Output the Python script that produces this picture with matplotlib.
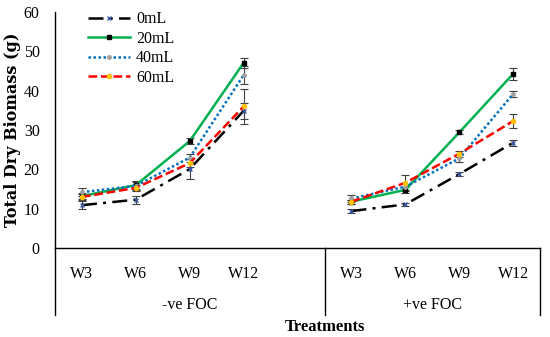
import matplotlib
matplotlib.use("Agg")
import matplotlib.pyplot as plt
import matplotlib.transforms as mtransforms
import numpy as np

# --- data ---
weeks = ["W3", "W6", "W9", "W12"]
groups = ["-ve FOC", "+ve FOC"]
series = ["0mL", "20mL", "40mL", "60mL"]

# values: first four = -ve FOC, last four = +ve FOC
v0 = [10.9, 12.3, 20.1, 34.9, 9.4, 11.1, 18.8, 26.8]
v20 = [13.2, 16.0, 27.2, 47.1, 11.8, 14.8, 29.4, 44.3]
v40 = [14.2, 15.8, 23.0, 44.0, 12.6, 15.6, 22.8, 39.2]
v60 = [13.0, 15.3, 21.6, 36.0, 11.8, 16.6, 24.0, 32.3]

e0 = [1.0, 1.0, 2.5, 2.0, 0.5, 0.4, 0.6, 0.8]
e20 = [0.8, 1.0, 0.8, 1.3, 0.5, 0.8, 0.5, 1.5]
e40 = [1.0, 1.0, 1.0, 2.2, 0.8, 0.8, 0.8, 0.8]
e60 = [0.8, 0.8, 1.0, 4.5, 0.5, 2.0, 0.8, 1.8]

plt.rcParams['font.family'] = ['Liberation Serif', 'DejaVu Serif']

fig = plt.figure(figsize=(5.5, 3.37), dpi=100)
ax = fig.add_axes([0.1, 0.264, 0.882, 0.700])

# slot positions: 4 weeks, a blank slot, 4 weeks
xpos = [0, 1, 2, 3, 5, 6, 7, 8]

styles = [
    dict(color="black", dashes=(6, 2.5, 1.2, 2.5), marker="x", mfc="#3a5aa8", mec="#3a5aa8", ms=3.5),
    dict(color="#00b050", linestyle="-", marker="s", mfc="black", mec="black", ms=3.5),
    dict(color="#0070c0", linestyle=(0, (1, 1)), marker="o", mfc="#a0a0a0", mec="#a0a0a0", ms=2.5),
    dict(color="#ff0000", linestyle=(0, (3.5, 1.5)), marker="o", mfc="#ffc000", mec="#ffc000", ms=3),
]
vals = [v0, v20, v40, v60]
errs = [e0, e20, e40, e60]

for name, v, e, st in zip(series, vals, errs, styles):
    for g in range(2):
        xs = xpos[g * 4:(g + 1) * 4]
        ys = v[g * 4:(g + 1) * 4]
        es = e[g * 4:(g + 1) * 4]
        ax.errorbar(xs, ys, yerr=es, fmt="none", ecolor="#404040",
                    elinewidth=0.8, capsize=3, capthick=0.8, zorder=2)
        ax.plot(xs, ys, lw=1.8, zorder=3, label=name if g == 0 else None, **st)

ax.set_xlim(-0.5, 8.5)
ax.set_ylim(0, 60)
ax.set_yticks(np.arange(0, 61, 10))
ax.set_xticks(xpos)
ax.set_xticklabels(weeks + weeks)
ax.tick_params(axis="both", length=0, labelsize=11.5)
ax.tick_params(axis="x", pad=13)
ax.tick_params(axis="y", pad=11)

for s in ["top", "right"]:
    ax.spines[s].set_visible(False)
for s in ["left", "bottom"]:
    ax.spines[s].set_linewidth(1.0)
    ax.spines[s].set_color("black")

# multi-level category axis
trans = mtransforms.blended_transform_factory(ax.transData, ax.transAxes)
for xsep in [-0.5, 4.5, 8.5]:
    ax.plot([xsep, xsep], [0, -0.283], color="black", lw=1.0,
            transform=trans, clip_on=False)
for gi, gname in enumerate(groups):
    cx = 2.0 if gi == 0 else 6.5
    ax.text(cx, -0.24, gname, transform=trans, ha="center", va="center", fontsize=11.5)

ax.text(4.5, -0.335, "Treatments", transform=trans, ha="center", va="center",
        fontsize=12, fontweight="bold")
ax.set_ylabel("Total Dry Biomass (g)", fontsize=11.5, fontweight="bold", labelpad=2,
              family="DejaVu Serif")

leg = ax.legend(loc="upper left", bbox_to_anchor=(0.055, 1.03), frameon=False,
                fontsize=11.5, handlelength=2.6, handletextpad=0.4, labelspacing=0.22,
                borderaxespad=0)

fig.savefig("out.png", dpi=100)
